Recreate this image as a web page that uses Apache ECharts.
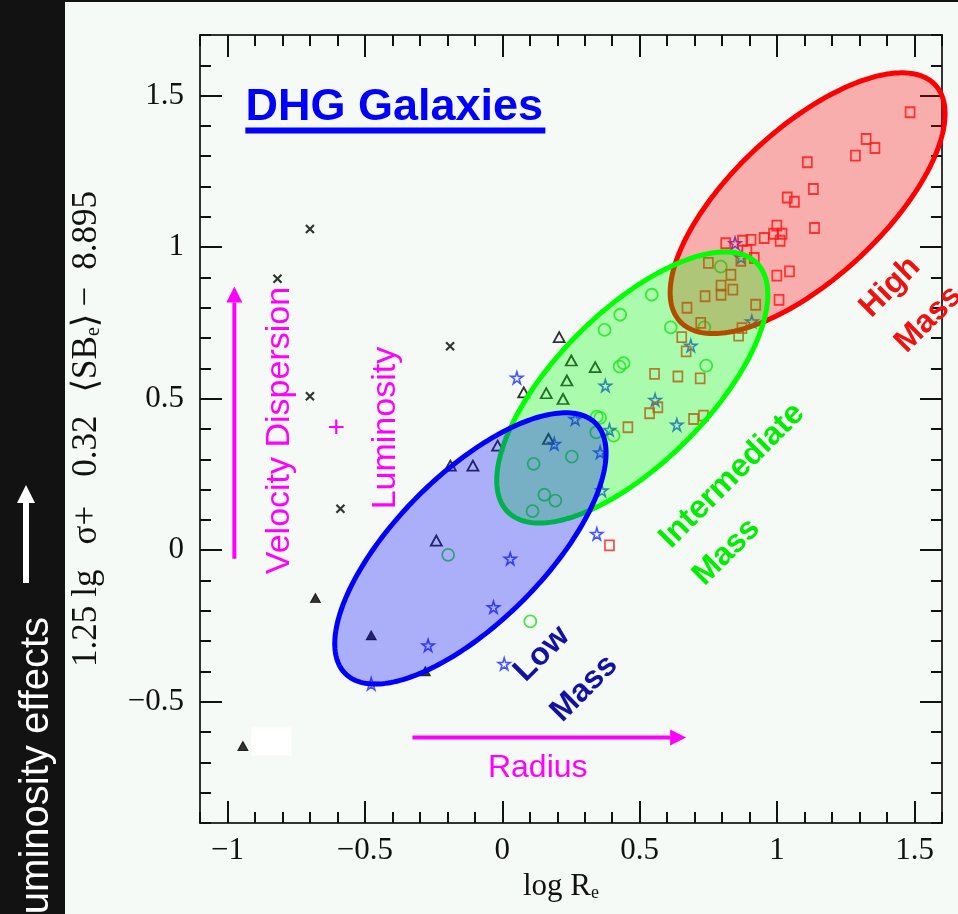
<!DOCTYPE html>
<html>
<head>
<meta charset="utf-8">
<title>DHG Galaxies</title>
<script src="https://cdn.jsdelivr.net/npm/echarts@6/dist/echarts.min.js"></script>
<style>
html, body { margin: 0; padding: 0; background: #f5faf6; }
#chart { width: 958px; height: 914px; }
</style>
</head>
<body>
<div id="chart"></div>
<script>
// Fundamental-plane projection of DHG galaxies: log R_e against 1.25 lg(sigma) + 0.32 <SB_e> - 8.895

// open squares (massive galaxies)
const squareGalaxies = [
  [1.484, 1.445], [1.324, 1.357], [1.356, 1.327], [1.285, 1.302], [1.110, 1.280],
  [1.132, 1.192], [1.037, 1.164], [1.063, 1.150], [1.136, 1.063], [0.999, 1.071],
  [0.987, 1.044], [1.018, 1.044], [0.953, 1.030], [1.011, 1.021], [0.905, 1.024],
  [0.874, 1.021], [0.813, 1.013], [0.890, 0.989], [0.999, 0.906], [1.045, 0.920],
  [1.007, 0.826], [0.868, 0.955], [0.917, 0.964], [0.750, 0.948], [0.832, 0.909],
  [0.796, 0.873], [0.796, 0.843], [0.839, 0.860], [0.738, 0.838], [0.672, 0.800],
  [0.922, 0.810], [0.722, 0.750], [0.872, 0.733], [0.860, 0.708], [0.653, 0.703],
  [0.669, 0.656], [0.554, 0.582], [0.639, 0.573], [0.720, 0.567], [0.566, 0.472],
  [0.536, 0.452], [0.696, 0.433], [0.732, 0.444], [0.457, 0.406], [0.390, 0.016]
];

// open circles
const circleGalaxies = [
  [0.429, 0.777], [0.372, 0.727], [0.427, 0.606], [0.441, 0.617], [0.742, 0.609],
  [0.613, 0.735], [0.735, 0.735], [0.344, 0.441], [0.356, 0.437], [0.342, 0.389],
  [0.405, 0.378], [0.253, 0.309], [0.114, 0.285], [0.153, 0.183], [0.193, 0.164],
  [0.110, 0.129], [-0.197, -0.015], [0.795, 0.936], [0.544, 0.843], [0.102, -0.235]
];

// open stars
const starGalaxies = [
  [0.053, 0.569], [0.189, 0.351], [0.375, 0.543], [0.356, 0.323], [0.362, 0.197],
  [0.344, 0.054], [0.029, -0.028], [-0.032, -0.188], [0.265, 0.433], [-0.270, -0.314],
  [-0.477, -0.441], [0.007, -0.375], [0.390, 0.397], [0.556, 0.496], [0.635, 0.414],
  [0.686, 0.675], [0.908, 0.755], [0.847, 1.013], [0.869, 0.966]
];

// open triangles
const openTriangleGalaxies = [
  [0.207, 0.703], [0.251, 0.626], [0.338, 0.604], [0.235, 0.560], [0.078, 0.521],
  [0.160, 0.518], [0.221, 0.499], [-0.017, 0.345], [0.168, 0.367], [-0.189, 0.279],
  [-0.107, 0.279], [-0.240, 0.032]
];

// filled triangles
const filledTriangleGalaxies = [
  [-0.680, -0.158], [-0.477, -0.281], [-0.280, -0.399], [-0.944, -0.646]
];

// crosses
const crossGalaxies = [
  [-0.700, 1.060], [-0.818, 0.896], [-0.190, 0.673], [-0.700, 0.508], [-0.589, 0.137]
];

const xTickValues = [-1, -0.5, 0, 0.5, 1, 1.5];
const yTickValues = [-0.5, 0, 0.5, 1, 1.5];

// mass groups, drawn as ellipses around their centres (data units)
const massGroupNames = ['High Mass', 'Intermediate Mass', 'Low Mass'];
const massGroupCentres = [[1.111, 1.145], [0.473, 0.537], [-0.116, 0.006]];

// ---- styling ----
const massGroupShapes = [
  { rx: 174, ry: 75, angle: 42.8, fill: 'rgba(255,0,0,0.3)', stroke: '#ff0000' },
  { rx: 176, ry: 76, angle: 45, fill: 'rgba(0,255,0,0.3)', stroke: '#00ff00' },
  { rx: 177, ry: 74, angle: 45, fill: 'rgba(0,0,255,0.3)', stroke: '#0000ff' }
];

const SERIF = '"Liberation Serif", "DejaVu Serif", serif';
const SANS = '"Liberation Sans", Arial, sans-serif';
const MAGENTA = '#ff00ff';
const CLEAR = 'rgba(0,0,0,0)';

const STAR_PATH = 'path://M50,2 L61,38 L98,38 L68,60 L79,96 L50,74 L21,96 L32,60 L2,38 L39,38 Z';
const CROSS_PATH = 'path://M0,0 L10,10 M10,0 L0,10';

function minusSign(v) { return String(v).replace('-', '\u2212'); }

const tickText = { fontFamily: SERIF, fontSize: 31, color: '#111' };

function majorAxis(kind, position, ticks, withLabels) {
  const ax = {
    type: 'value', position: position,
    min: kind === 'x' ? -1.1 : -0.9,
    max: kind === 'x' ? 1.6 : 1.7,
    axisLine: { show: true, onZero: false, lineStyle: { color: '#333', width: 2 } },
    axisTick: { show: true, inside: true, length: 22, customValues: ticks, lineStyle: { color: '#111', width: 2 } },
    axisLabel: withLabels
      ? Object.assign({ show: true, customValues: ticks, formatter: minusSign, margin: kind === 'x' ? 12 : 16 }, tickText)
      : { show: false },
    splitLine: { show: false }
  };
  return ax;
}

function minorAxis(kind, position) {
  return {
    type: 'value', position: position,
    min: kind === 'x' ? -1.1 : -0.9,
    max: kind === 'x' ? 1.6 : 1.7,
    interval: 0.1,
    axisLine: { show: false, onZero: false },
    axisTick: { show: true, inside: true, length: 11, lineStyle: { color: '#111', width: 2 } },
    axisLabel: { show: false },
    splitLine: { show: false }
  };
}

const xMain = majorAxis('x', 'bottom', xTickValues, true);
xMain.name = '{t|log R}{s|e}';
xMain.nameLocation = 'middle';
xMain.nameGap = 46;
xMain.nameTextStyle = {
  padding: [0, 20, 0, 0],
  rich: {
    t: { fontFamily: SERIF, fontSize: 31, color: '#111' },
    s: { fontFamily: SERIF, fontSize: 18, color: '#111', lineHeight: 8, verticalAlign: 'bottom' }
  }
};

const yMain = majorAxis('y', 'left', yTickValues, true);
yMain.name = '{t|1.25}{g1| }{t|lg}{g2| }{t|\u03c3+}{g3| }{t|0.32}{g4| }{t|\u27e8SB}{s|e}{t|\u27e9}{g5| }{t|\u2212}{g6| }{t|8.895}';
yMain.nameLocation = 'middle';
yMain.nameGap = 96;
yMain.nameRotate = 90;
yMain.nameTextStyle = {
  rich: {
    t: { fontFamily: SERIF, fontSize: 35, color: '#111' },
    s: { fontFamily: SERIF, fontSize: 20, color: '#111', lineHeight: 10, verticalAlign: 'bottom' },
    g1: { width: 9 }, g2: { width: 25 }, g3: { width: 29 },
    g4: { width: 23 }, g5: { width: 7 }, g6: { width: 17 }
  }
};

function scatter(data, symbol, size, itemStyle) {
  return {
    type: 'scatter', data: data, symbol: symbol, symbolSize: size,
    symbolKeepAspect: false, itemStyle: itemStyle, silent: true, z: 2,
    xAxisIndex: 0, yAxisIndex: 0
  };
}

const chart = echarts.init(document.getElementById('chart'), null, { renderer: 'canvas' });

chart.setOption({
  animation: false,
  backgroundColor: '#f5faf6',
  grid: { left: 200, top: 35, width: 742, height: 788 },
  xAxis: [xMain, minorAxis('x', 'bottom'), majorAxis('x', 'top', xTickValues, false), minorAxis('x', 'top')],
  yAxis: [yMain, minorAxis('y', 'left'), majorAxis('y', 'right', yTickValues, false), minorAxis('y', 'right')],
  series: [
    scatter(crossGalaxies, CROSS_PATH, 8, { color: CLEAR, borderColor: '#000', borderWidth: 2.2 }),
    scatter(filledTriangleGalaxies, 'triangle', [10, 9], { color: '#000', borderColor: '#000', borderWidth: 1 }),
    scatter(openTriangleGalaxies, 'triangle', [11, 10], { color: CLEAR, borderColor: '#000', borderWidth: 1.8 }),
    scatter(circleGalaxies, 'circle', 12, { color: CLEAR, borderColor: '#22dd22', borderWidth: 1.8 }),
    scatter(starGalaxies, STAR_PATH, 12, { color: CLEAR, borderColor: '#1a2dff', borderWidth: 1.6 }),
    scatter(squareGalaxies, 'rect', [9, 10], { color: CLEAR, borderColor: '#ff1a1a', borderWidth: 1.8 }),
    {
      type: 'custom', name: 'mass groups', silent: true, clip: false, z: 3,
      xAxisIndex: 0, yAxisIndex: 0,
      data: massGroupCentres,
      renderItem: function (params, api) {
        const s = massGroupShapes[params.dataIndex];
        const c = api.coord([api.value(0), api.value(1)]);
        const t = s.angle * Math.PI / 180;
        const pts = [];
        for (let k = 0; k < 240; k++) {
          const p = 2 * Math.PI * k / 240;
          const u = s.rx * Math.cos(p), v = s.ry * Math.sin(p);
          pts.push([c[0] + u * Math.cos(t) + v * Math.sin(t), c[1] - u * Math.sin(t) + v * Math.cos(t)]);
        }
        return {
          type: 'polygon', shape: { points: pts },
          style: { fill: s.fill, stroke: s.stroke, lineWidth: 5 }
        };
      }
    }
  ]
});

// ---- annotations, anchored in data units ----
const P = (x, y) => chart.convertToPixel({ gridIndex: 0 }, [x, y]);

function label(text, at, opts) {
  const p = P(at[0], at[1]);
  return {
    type: 'text', x: p[0], y: p[1], rotation: opts.rotation || 0, z: 20, silent: true,
    style: {
      text: text, fill: opts.color, fontFamily: SANS, fontSize: opts.size,
      fontWeight: opts.weight || 'normal', align: 'center', verticalAlign: 'middle'
    }
  };
}

function arrow(from, to, color, width, head) {
  const a = P(from[0], from[1]), b = P(to[0], to[1]);
  const dx = b[0] - a[0], dy = b[1] - a[1];
  const len = Math.sqrt(dx * dx + dy * dy), ux = dx / len, uy = dy / len;
  const bx = b[0] - ux * head, by = b[1] - uy * head;
  const hw = head * 0.5;
  return [
    { type: 'line', z: 20, silent: true, shape: { x1: a[0], y1: a[1], x2: bx, y2: by }, style: { stroke: color, lineWidth: width } },
    { type: 'polygon', z: 20, silent: true, shape: { points: [[b[0], b[1]], [bx - uy * hw, by + ux * hw], [bx + uy * hw, by - ux * hw]] }, style: { fill: color } }
  ];
}

const Q = Math.PI / 4;
const titlePos = P(-0.393, 1.462);
const underline = P(-0.935, 1.395);
const blank = P(-0.913, -0.585);

const graphics = [
  // dark side panel with its caption
  { type: 'rect', z: 30, silent: true, shape: { x: 0, y: 0, width: 65, height: 914 }, style: { fill: '#121212' } },
  { type: 'rect', z: 30, silent: true, shape: { x: 0, y: 0, width: 958, height: 2 }, style: { fill: '#121212' } },
  {
    type: 'text', z: 31, silent: true, x: 37, y: 617, rotation: Math.PI / 2,
    style: { text: 'Luminosity effects', fill: '#ffffff', fontFamily: SANS, fontSize: 40, align: 'right', verticalAlign: 'middle' }
  },
  { type: 'line', z: 31, silent: true, shape: { x1: 26, y1: 583, x2: 26, y2: 500 }, style: { stroke: '#ffffff', lineWidth: 6 } },
  { type: 'polygon', z: 31, silent: true, shape: { points: [[26, 485], [17, 503], [35, 503]] }, style: { fill: '#ffffff' } },

  // title
  {
    type: 'text', z: 20, silent: true, x: titlePos[0], y: titlePos[1],
    style: { text: 'DHG Galaxies', fill: '#0000ff', fontFamily: SANS, fontSize: 45, fontWeight: 'bold', align: 'center', verticalAlign: 'middle' }
  },
  { type: 'rect', z: 20, silent: true, shape: { x: underline[0], y: underline[1], width: 300, height: 6 }, style: { fill: '#0000ff' } },

  // blank patch in the lower left
  { type: 'rect', z: 20, silent: true, shape: { x: blank[0], y: blank[1], width: 40, height: 28 }, style: { fill: '#ffffff' } },

  label('Velocity Dispersion', [-0.811, 0.395], { color: MAGENTA, size: 34, rotation: Math.PI / 2 }),
  label('+', [-0.604, 0.401], { color: MAGENTA, size: 30 }),
  label('Luminosity', [-0.425, 0.403], { color: MAGENTA, size: 34, rotation: Math.PI / 2 }),
  label('Radius', [0.129, -0.720], { color: MAGENTA, size: 32 }),

  label('Low', [0.144, -0.342], { color: '#1212a2', size: 32, weight: 'bold', rotation: Q }),
  label('Mass', [0.298, -0.456], { color: '#1212a2', size: 32, weight: 'bold', rotation: Q }),
  label('Intermediate', [0.836, 0.246], { color: '#00ee00', size: 32, weight: 'bold', rotation: Q }),
  label('Mass', [0.816, -0.006], { color: '#00ee00', size: 32, weight: 'bold', rotation: Q }),
  label('High', [1.411, 0.868], { color: '#f01010', size: 32, weight: 'bold', rotation: Q }),
  label('Mass', [1.551, 0.762], { color: '#f01010', size: 32, weight: 'bold', rotation: Q })
].concat(
  arrow([-0.975, -0.028], [-0.975, 0.870], MAGENTA, 4, 16),
  arrow([-0.327, -0.618], [0.669, -0.618], MAGENTA, 4, 16)
);

chart.setOption({ graphic: graphics });
</script>
</body>
</html>
